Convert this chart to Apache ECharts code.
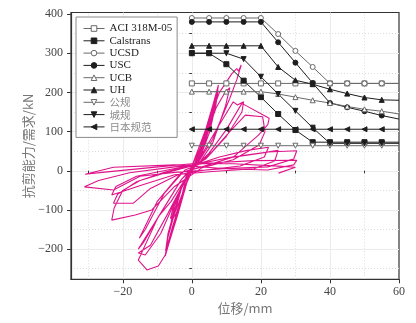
<!DOCTYPE html>
<html>
<head>
<meta charset="utf-8">
<script src="https://cdn.jsdelivr.net/npm/echarts@6/dist/echarts.min.js"></script>
<style>
  html, body { margin: 0; padding: 0; background: #fff; }
  #chart { width: 416px; height: 323px; }
</style>
</head>
<body>
<div id="chart"></div>
<script>
// Displacement steps (mm) at which each code's capacity/demand is evaluated
const dispSteps = [0, 5, 10, 15, 20, 25, 30, 35, 40, 45, 50, 55, 60];

// Shear capacity / demand (kN) for each design code
const aci318 = [223, 223, 223, 223, 223, 223, 223, 223, 223, 223, 223, 223, 223];
const calstrans = [300, 300, 272, 230, 188, 145, 104, 73, 73, 73, 73, 73, 73];
const ucsd = [390, 390, 390, 390, 390, 349, 306, 265, 223, 223, 223, 223, 223];
const usc = [380, 380, 380, 380, 380, 328, 276, 224, 173, 162, 152, 141, 132];
const ucb = [202, 202, 202, 202, 202, 196, 188, 180, 173, 164, 157, 152, 145];
const uh = [319, 319, 319, 319, 319, 265, 231, 221, 208, 197, 187, 181, 180];
const gongGui = [64, 64, 64, 64, 64, 64, 64, 64, 64, 64, 64, 64, 64];
const chengGui = [300, 300, 300, 285, 240, 196, 153, 110, 70, 70, 70, 70, 70];
const japanCode = [106, 106, 106, 106, 106, 106, 106, 106, 106, 106, 106, 106, 106];

// Measured hysteresis loop: displacement (mm) and load (kN), in loading order
const hystDisp = [
  0,
  1.5, 3, 2.2, 0.3, -1.5, -3, -2, 0,
  2, 4.5, 6, 5, 2, 0, -2, -4.5, -6, -5, -1.5, 0.5,
  2.5, 5, 6.2, 5.2, 2, 0, -2, -4.8, -6.2, -5.2, -1.5, 0.5,
  3, 6, 7.7, 7, 3, 0.5, -2, -5.5, -7.7, -7, -3, 0,
  3, 6, 7.6, 6.9, 3, 0.5, -2, -5.5, -7.6, -6.9, -3, 0,
  3, 8, 11.6, 13, 13.5, 14.3, 13, 11, 6, 2, 0, -2, -6, -9.7, -15.5, -13, -9.7, -7.7, -4, -1, 1,
  3, 7, 9.6, 11, 9.8, 6, 2, 0, -2, -7, -12, -15.5, -13.5, -9, -4, -1, 1,
  4, 8, 12, 13.2, 15, 14.5, 10, 4, 0.5, -3, -10, -15.5, -14, -9, -3, 1,
  5, 10, 14.5, 22.4, 22, 19.3, 12, 3, -3, -10, -15.2, -13.5, -8, -2, 2,
  6, 11, 15.5, 20.5, 21.2, 19.5, 12, 3,
  -5, -11.6, -16.4, -23.2, -22.5, -20, -15, -8, 0,
  8, 16, 22.2, 21, 14, 4, -4, -12, -17, -22.7, -21.5, -16, -8, 0,
  10, 20, 25, 24, 18, 6, -5, -14, -23.2, -22, -16, -6, 2,
  12, 22, 30.4, 29.5, 22, 10, -5, -15, -22.7, -31.1, -27, -18, -5, 5, 18, 30.4, 29.5, 22, 10,
  -5, -22.7, -30.9, -26, -12, 0, 12, 25, 30, 25.1
];
const hystLoad = [
  0,
  35, 72, 38, 6, -32, -68, -30, 2,
  45, 112, 148, 106, 28, 6, -45, -108, -130, -88, -14, 10,
  55, 118, 140, 100, 24, 6, -42, -105, -122, -84, -12, 10,
  75, 165, 219, 178, 55, 12, -42, -150, -218, -172, -45, 12,
  70, 158, 205, 165, 48, 10, -38, -140, -205, -160, -38, 12,
  82, 200, 248, 261, 254, 270, 232, 185, 80, 24, 10, -22, -78, -117, -228, -253, -243, -215, -110, -16, 14,
  60, 160, 200, 212, 167, 70, 18, 8, -25, -110, -190, -210, -215, -160, -60, -10, 12,
  58, 118, 176, 168, 176, 150, 88, 30, 12, -22, -122, -200, -183, -108, -22, 12,
  45, 105, 172, 134, 118, 91, 35, 10, -4, -78, -172, -150, -58, 2, 16,
  50, 100, 142, 138, 100, 66, 28, 8,
  -40, -100, -113, -126, -95, -50, -25, -6, 12,
  35, 52, 60, 35, 12, 2, -10, -45, -83, -83, -60, -28, -4, 14,
  32, 45, 52, 25, 5, -2, -10, -35, -62, -40, -14, 4, 18,
  36, 48, 51, 30, 10, 6, -4, -14, -49, -41, -25, -5, 10, 20, 26, 27, 15, 2, 5,
  15, 9, -9, -4, 8, 18, 18, 12, 9, -6
];

// Axis tick values
const xMajorTicks = [-20, 0, 20, 40, 60];
const xMinorTicks = [-30, -10, 10, 30, 50];
const yMajorTicks = [-200, -100, 0, 100, 200, 300, 400];
const yMinorTicks = [-250, -150, -50, 50, 150, 250, 350];
const xGridMajor = [-20, 0, 20, 40];
const yGridMajor = [-200, -100, 0, 100, 200, 300];

const chart = echarts.init(document.getElementById('chart'), null, { renderer: 'canvas' });

const SERIF = 'Liberation Serif, "Times New Roman", serif';
const CJK = '"Noto Sans CJK SC", sans-serif';
const minus = v => String(v).replace('-', '\u2212');

function codeSeries(name, values, symbol, filled, rotate) {
  const stroke = filled ? '#1e1e1e' : '#6a6a6a';
  return {
    name: name,
    type: 'line',
    xAxisIndex: 0,
    yAxisIndex: 0,
    data: dispSteps.map((x, i) => x < 60
      ? [x, values[i]]
      : { value: [x, values[i]], symbol: 'none' }),
    symbol: symbol,
    symbolSize: 5,
    symbolRotate: rotate || 0,
    showAllSymbol: true,
    lineStyle: { color: stroke, width: 1 },
    itemStyle: { color: filled ? stroke : '#fff', borderColor: stroke, borderWidth: 1 },
    z: 3,
    animation: false,
    clip: true
  };
}

const gridLines = [];
xGridMajor.forEach(v => gridLines.push({ xAxis: v, lineStyle: { color: '#ebebeb', type: 'solid', width: 1 } }));
xMinorTicks.forEach(v => gridLines.push({ xAxis: v, lineStyle: { color: '#dcdcdc', type: [1, 2], width: 1 } }));
yGridMajor.forEach(v => gridLines.push({ yAxis: v, lineStyle: { color: '#ebebeb', type: 'solid', width: 1 } }));
yMinorTicks.forEach(v => gridLines.push({ yAxis: v, lineStyle: { color: '#dcdcdc', type: [1, 2], width: 1 } }));

const axisCommon = {
  type: 'value',
  splitLine: { show: false },
  nameMoveOverlap: false,
  axisLine: { show: true, onZero: false, lineStyle: { color: '#333', width: 1.2 } }
};

const cjkLegendText = { fontFamily: CJK, fontSize: 10.5, color: '#8a8a8a', lineHeight: 11 };

const option = {
  backgroundColor: '#fff',
  animation: false,
  grid: {
    left: 71, right: 17, top: 12.5, bottom: 43.7,
    show: true, borderColor: '#333', borderWidth: 1.2, backgroundColor: 'transparent'
  },
  legend: {
    z: 10,
    orient: 'vertical',
    left: 76, top: 17,
    padding: [6, 5, 5, 7],
    backgroundColor: '#fff',
    borderColor: '#8a8a8a',
    borderWidth: 1,
    borderRadius: 0,
    itemWidth: 21,
    itemHeight: 7,
    itemGap: 1.3,
    lineStyle: { width: 1 },
    itemStyle: { borderWidth: 1 },
    textStyle: { fontFamily: SERIF, fontSize: 11, color: '#222', lineHeight: 11 },
    data: [
      { name: 'ACI 318M-05' },
      { name: 'Calstrans' },
      { name: 'UCSD' },
      { name: 'USC' },
      { name: 'UCB' },
      { name: 'UH' },
      { name: '公规', textStyle: cjkLegendText },
      { name: '城规', textStyle: cjkLegendText },
      { name: '日本规范', textStyle: cjkLegendText }
    ]
  },
  xAxis: [
    Object.assign({}, axisCommon, {
      min: -35, max: 60,
      position: 'bottom',
      name: '位移/mm',
      nameLocation: 'middle',
      nameGap: 22,
      nameTextStyle: { fontFamily: CJK, fontSize: 13, color: '#777', padding: [0, 0, 0, 20] },
      axisTick: { show: true, inside: false, length: 4, customValues: xMajorTicks, lineStyle: { color: '#333', width: 1 } },
      axisLabel: { customValues: xMajorTicks, margin: 7, fontFamily: SERIF, fontSize: 12, color: '#444', formatter: minus }
    }),
    Object.assign({}, axisCommon, {
      min: -35, max: 60,
      position: 'bottom',
      axisLine: { show: false },
      axisTick: { show: true, inside: false, length: 2.5, customValues: xMinorTicks, lineStyle: { color: '#333', width: 1 } },
      axisLabel: { show: false }
    })
  ],
  yAxis: [
    Object.assign({}, axisCommon, {
      min: -277, max: 404,
      position: 'left',
      name: '抗剪能力/需求/kN',
      nameLocation: 'middle',
      nameGap: 36,
      nameRotate: 90,
      nameTextStyle: { fontFamily: CJK, fontSize: 13, color: '#777' },
      axisTick: { show: true, inside: false, length: 4, customValues: yMajorTicks, lineStyle: { color: '#333', width: 1 } },
      axisLabel: { customValues: yMajorTicks, margin: 8, fontFamily: SERIF, fontSize: 12, color: '#444', formatter: minus }
    }),
    Object.assign({}, axisCommon, {
      min: -277, max: 404,
      position: 'left',
      offset: 0,
      axisLine: { show: false },
      axisTick: { show: true, inside: false, length: 2.5, customValues: yMinorTicks, lineStyle: { color: '#333', width: 1 } },
      axisLabel: { show: false }
    })
  ],
  series: [
    {
      // background grid lines
      type: 'line',
      data: [],
      silent: true,
      z: 0,
      markLine: { z: 0, silent: true, symbol: 'none', label: { show: false }, animation: false, data: gridLines }
    },
    {
      name: 'hysteresis',
      type: 'line',
      data: hystDisp.map((x, i) => [x, hystLoad[i]]),
      symbol: 'none',
      lineStyle: { color: '#e0148a', width: 1.1 },
      z: 2,
      clip: true
    },
    codeSeries('ACI 318M-05', aci318, 'rect', false),
    codeSeries('Calstrans', calstrans, 'rect', true),
    codeSeries('UCSD', ucsd, 'circle', false),
    codeSeries('USC', usc, 'circle', true),
    codeSeries('UCB', ucb, 'triangle', false),
    codeSeries('UH', uh, 'triangle', true),
    codeSeries('公规', gongGui, 'triangle', false, 180),
    codeSeries('城规', chengGui, 'triangle', true, 180),
    codeSeries('日本规范', japanCode, 'triangle', true, 90)
  ]
};

chart.setOption(option);
</script>
</body>
</html>
